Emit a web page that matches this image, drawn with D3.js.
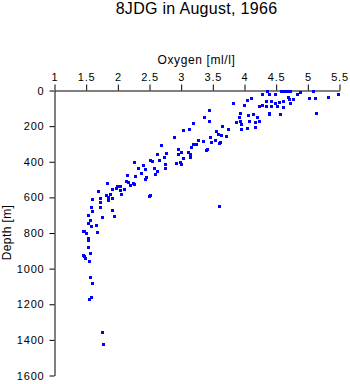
<!DOCTYPE html>
<html><head><meta charset="utf-8">
<script src="https://cdn.jsdelivr.net/npm/d3@7"></script>
<style>
html,body{margin:0;padding:0;background:#fff;}
svg{display:block;font-family:"Liberation Sans",Arial,sans-serif;}
</style></head>
<body>
<svg id="chart" width="350" height="384"></svg>
<script>
const title = "8JDG in August, 1966";
const xLabel = "Oxygen [ml/l]";
const yLabel = "Depth [m]";
const xTicks = [1,1.5,2,2.5,3,3.5,4,4.5,5,5.5];
const yTicks = [0,200,400,600,800,1000,1200,1400,1600];
const oxygen = [4.29,4.36,4.40,4.49,4.58,4.63,4.68,4.73,4.83,4.88,5.09,5.49,4.69,4.71,4.78,4.72,5.02,5.12,5.32,5.14,
3.82,4.04,4.11,4.00,4.34,4.42,4.49,4.56,4.61,4.23,4.29,4.35,4.42,4.52,4.62,4.39,4.39,4.57,3.94,4.07,
4.14,4.20,3.92,3.87,3.94,3.96,4.08,4.17,4.24,3.66,3.74,3.96,4.05,4.17,3.71,3.63,3.62,3.44,3.37,3.44,
3.20,3.03,3.13,3.55,3.59,3.72,3.47,3.54,3.48,3.61,3.28,3.36,2.90,3.19,3.24,3.17,3.42,3.40,2.69,2.95,
3.01,2.96,3.11,3.14,3.15,3.03,2.63,2.77,2.73,2.66,2.55,2.76,2.92,2.99,3.00,2.58,2.76,2.63,2.59,2.52,
3.61,2.52,2.41,2.43,2.27,2.32,2.38,2.15,2.28,2.43,2.46,2.13,2.17,2.24,2.20,2.27,1.83,2.00,2.04,1.98,
1.92,2.05,2.11,2.06,1.69,1.82,1.85,1.89,1.92,2.50,1.73,1.86,1.72,1.92,1.76,1.94,1.66,1.68,1.60,1.59,
1.60,1.54,1.57,1.54,1.59,1.48,1.50,1.46,1.53,1.53,1.53,1.57,1.46,1.48,1.49,1.56,1.57,1.60,1.56,1.59,
1.75,1.78,1.73];
const depth = [21,8,25,22,8,8,8,8,21,11,8,21,39,49,49,73,45,45,39,129,
73,56,45,84,64,60,73,67,60,88,85,88,90,90,95,127,136,133,129,139,
135,152,153,180,174,189,174,180,174,202,219,217,216,208,258,255,292,112,150,174,
188,225,219,232,247,257,264,279,290,296,281,286,262,303,303,322,331,339,309,331,
348,359,348,362,376,382,358,352,374,395,397,415,412,403,415,440,440,453,470,592,
650,393,421,442,404,438,464,477,485,498,491,509,516,524,533,526,522,539,539,552,
556,561,558,584,567,589,599,582,606,595,629,620,657,672,713,707,758,797,614,659,
682,704,728,747,766,794,803,790,831,842,881,915,925,934,943,960,1052,1086,1173,1164,
1359,1426,606];

const svg = d3.select("#chart");
const x = d3.scaleLinear().domain([1,5.5]).range([54,339]);
const y = d3.scaleLinear().domain([0,1600]).range([90,375]);

svg.append("text").attr("x",196.5).attr("y",13.5).attr("text-anchor","middle")
  .attr("font-size",16).attr("letter-spacing",0.3).text(title);

const gx = svg.append("g").attr("transform","translate(0.5,90.5)")
  .call(d3.axisTop(x).tickValues(xTicks).tickFormat(d=>String(d)).tickSize(6).tickSizeOuter(0).tickPadding(4));
const gy = svg.append("g").attr("transform","translate(54.5,0.5)")
  .call(d3.axisLeft(y).tickValues(yTicks).tickFormat(d=>String(d)).tickSize(5).tickSizeOuter(0).tickPadding(5));
[gx,gy].forEach(g=>{
  g.attr("font-family",null).attr("font-size",null);
  g.selectAll("text").attr("font-size",11).attr("letter-spacing",0.8).attr("fill","#000");
  g.selectAll("line,path").attr("stroke","#000");
});

svg.append("text").attr("x",196.5).attr("y",64).attr("text-anchor","middle")
  .attr("font-size",12).attr("letter-spacing",0.6).text(xLabel);
svg.append("text").attr("transform","translate(11,232.5) rotate(-90)").attr("text-anchor","middle")
  .attr("font-size",12).attr("letter-spacing",0.4).text(yLabel);

svg.append("g").selectAll("rect").data(oxygen.map((o,i)=>[o,depth[i]])).join("rect")
  .attr("x",d=>Math.round(x(d[0]))-1).attr("y",d=>Math.round(y(d[1]))-1)
  .attr("width",3).attr("height",3).attr("fill","#0000ff");
</script>
</body></html>
